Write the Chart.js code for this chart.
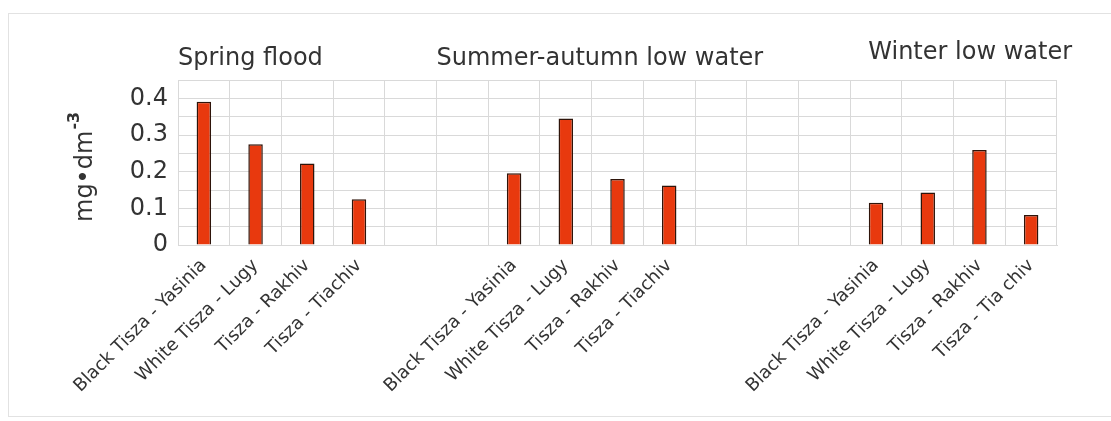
<!DOCTYPE html>
<html>
<head>
<meta charset="utf-8">
<script src="https://cdn.jsdelivr.net/npm/chart.js@4"></script>
<style>
  html, body { margin: 0; padding: 0; background: #fff; }
  #wrap { position: relative; width: 1111px; height: 421px; }
</style>
</head>
<body>
<div id="wrap"><canvas id="chart" width="1111" height="421"></canvas></div>
<script>
// stations per season, empty slots are spacer columns between groups
const categories = [
  'Black Tisza - Yasinia', 'White Tisza - Lugy', 'Tisza - Rakhiv', 'Tisza - Tiachiv',
  '', '',
  'Black Tisza - Yasinia', 'White Tisza - Lugy', 'Tisza - Rakhiv', 'Tisza - Tiachiv',
  '', '', '',
  'Black Tisza - Yasinia', 'White Tisza - Lugy', 'Tisza - Rakhiv', 'Tisza - Tia chiv'
]
const values = [
  0.391, 0.275, 0.222, 0.125,
  null, null,
  0.196, 0.345, 0.180, 0.162,
  null, null, null,
  0.115, 0.143, 0.259, 0.082
]
const seasonTitles = ['Spring flood', 'Summer-autumn low water', 'Winter low water']
const yTicks = [0, 0.1, 0.2, 0.3, 0.4]

const textColor = '#333'
const gridColor = '#d9d9d9'

// group titles, y-axis title and the outer frame
const decorations = {
  id: 'decorations',
  beforeDraw(chart) {
    const ctx = chart.ctx
    ctx.save()
    ctx.strokeStyle = '#e2e2e2'
    ctx.lineWidth = 1
    ctx.strokeRect(8.5, 13.5, 1120, 403)
    ctx.restore()
  },
  afterDraw(chart) {
    const ctx = chart.ctx
    const x = chart.scales.x
    const slot = (x.right - x.left) / categories.length
    const anchors = [0, 5, 13.35]
    const baselines = [65, 65, 59]
    ctx.save()
    ctx.fillStyle = textColor
    ctx.font = '24px "DejaVu Sans"'
    ctx.textAlign = 'left'
    ctx.textBaseline = 'alphabetic'
    seasonTitles.forEach((t, i) => {
      ctx.fillText(t, x.left + anchors[i] * slot, baselines[i])
    })

    // rotated unit label with superscript
    ctx.translate(92, 222)
    ctx.rotate(-Math.PI / 2)
    ctx.font = '24px "DejaVu Sans"'
    ctx.fillText('mg\u2022dm', 0, 0)
    const w = ctx.measureText('mg\u2022dm').width
    ctx.font = 'bold 16px "DejaVu Sans"'
    ctx.fillText('-3', w + 1, -13)
    ctx.restore()
  }
}

new Chart(document.getElementById('chart'), {
  type: 'bar',
  data: {
    labels: categories,
    datasets: [{
      data: values,
      backgroundColor: '#e8390e',
      borderColor: '#2e140a',
      borderWidth: 1.5,
      barPercentage: 0.28,
      categoryPercentage: 1
    }]
  },
  options: {
    responsive: false,
    animation: false,
    layout: { padding: { top: 80, right: 54, left: 0, bottom: 0 } },
    plugins: {
      legend: { display: false },
      tooltip: { enabled: false }
    },
    scales: {
      x: {
        grid: { color: gridColor, drawTicks: false, offset: true },
        border: { color: gridColor },
        ticks: {
          color: textColor,
          font: { family: 'DejaVu Sans', size: 18 },
          maxRotation: 45,
          minRotation: 45,
          autoSkip: false,
          padding: 10
        },
        afterFit(scale) { scale.height = 176 }
      },
      y: {
        min: 0,
        max: 0.45,
        grid: { color: gridColor, drawTicks: false },
        border: { color: gridColor },
        ticks: {
          stepSize: 0.05,
          autoSkip: false,
          padding: 10,
          color: textColor,
          font: { family: 'DejaVu Sans', size: 24 },
          callback(v) {
            const t = yTicks.find(k => Math.abs(k - v) < 1e-6)
            return t === undefined ? '' : String(t)
          }
        },
        afterFit(scale) { scale.width = 178 }
      }
    }
  },
  plugins: [decorations]
})
</script>
</body>
</html>
